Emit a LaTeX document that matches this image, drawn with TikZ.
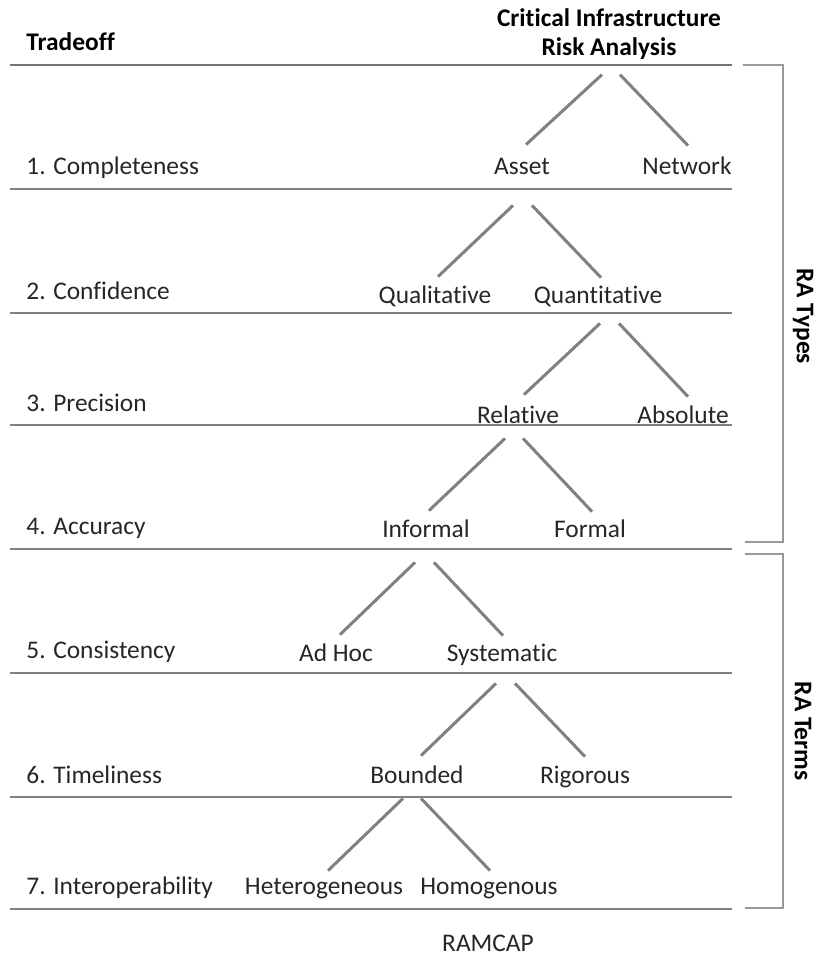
\documentclass[tikz,border=0pt]{standalone}
\usepackage{fontspec}
\setmainfont{Carlito}[Ligatures=NoCommon]
\usetikzlibrary{positioning}
\tikzset{
    choice/.style={
           anchor=base,
           inner sep=0pt,
           text height=11.5pt,
           text depth=12.5pt,
           text=black!85,
           },
}
\tikzset{
    tradeoff/.style={
           anchor=base west,
           inner sep=0pt,
           text=black!85,
           },
}
\tikzset{
    heading/.style={
           inner sep=0pt,
           font=\fontsize{12.7}{14.5}\selectfont\bfseries,
           },
}
\tikzset{
    branch/.style={
           draw=black!50, line width=1.5pt,
           },
}
\tikzset{
    rowline/.style={
           draw=black!50, line width=1pt,
           },
}
\tikzset{
    bracket/.style={
           draw=black!40, line width=1pt,
           },
}

\begin{document}
\begin{tikzpicture}[x=0.5pt,y=-0.5pt,font=\fontsize{12.7}{14.5}\selectfont]
\useasboundingbox (0,0) rectangle (816,957);
% header
\node[heading,anchor=base west](head) at (26,51){Tradeoff};
\node[heading,anchor=north,align=center](root) at (609,8){Critical Infrastructure\\Risk Analysis};
\draw[rowline,line width=1.4pt,draw=black!55] (10,65) -- (732,65);
% rows
\foreach \y in {189,313,425,549,673,797,909}
  \draw[rowline] (10,\y) -- (732,\y);
\node[tradeoff](t1) at (26,175){1. Completeness};
\node[tradeoff](t2) at (26,299){2. Confidence};
\node[tradeoff](t3) at (26,411){3. Precision};
\node[tradeoff](t4) at (26,534){4. Accuracy};
\node[tradeoff](t5) at (26,658){5. Consistency};
\node[tradeoff](t6) at (26,783){6. Timeliness};
\node[tradeoff](t7) at (26,894){7. Interoperability};
% tree
\node[choice](asset) at (522,175){Asset};
\node[choice](network) at (687,175){Network};
\node[choice](qual) at (435,303){Qualitative};
\node[choice](quant) at (598,303){Quantitative};
\node[choice](relative) at (518,423){Relative};
\node[choice](absolute) at (683,423){Absolute};
\node[choice](informal) at (426,537){Informal};
\node[choice](formal) at (590,537){Formal};
\node[choice](adhoc) at (336,661){Ad Hoc};
\node[choice](systematic) at (502,661){Systematic};
\node[choice](bounded) at (417,783){Bounded};
\node[choice](rigorous) at (585,783){Rigorous};
\node[choice](hetero) at (324,894){Heterogeneous};
\node[choice](homog) at (489,894){Homogenous};
\draw[branch] ([xshift=-3.5pt,yshift=-7.5pt]root.south) -- ([xshift=2pt,yshift=3.5pt]asset.north);
\draw[branch] ([xshift=5.5pt,yshift=-7.5pt]root.south) -- ([xshift=0.5pt,yshift=3pt]network.north);
\draw[branch] ([xshift=-4.5pt,yshift=-2.5pt]asset.south) -- ([xshift=1.5pt,yshift=1.5pt]qual.north);
\draw[branch] ([xshift=5pt,yshift=-2.5pt]asset.south) -- ([xshift=1.5pt,yshift=1pt]quant.north);
\draw[branch] ([xshift=1pt,yshift=2.5pt]quant.south) -- ([xshift=3pt,yshift=2.5pt]relative.north);
\draw[branch] ([xshift=10.5pt,yshift=2.5pt]quant.south) -- ([xshift=2.5pt,yshift=1.5pt]absolute.north);
\draw[branch] ([xshift=-6.5pt,yshift=5pt]relative.south) -- ([xshift=1.5pt,yshift=1.5pt]informal.north);
\draw[branch] ([xshift=2.5pt,yshift=5pt]relative.south) -- ([xshift=1pt,yshift=1pt]formal.north);
\draw[branch] ([xshift=-5.5pt]informal.south) -- ([xshift=2pt,yshift=1.5pt]adhoc.north);
\draw[branch] ([xshift=4pt]informal.south) -- ([xshift=0.5pt,yshift=1pt]systematic.north);
\draw[branch] ([xshift=-3pt,yshift=1.5pt]systematic.south) -- ([xshift=2pt,yshift=2pt]bounded.north);
\draw[branch] ([xshift=6.5pt,yshift=1.5pt]systematic.south) -- ([yshift=1.5pt]rigorous.north);
\draw[branch] ([xshift=-7pt,yshift=5pt]bounded.south) -- ([xshift=2pt]hetero.north);
\draw[branch] ([xshift=2pt,yshift=5pt]bounded.south) -- ([xshift=0.5pt]homog.north);
% brackets
\draw[bracket] (743,65) -- (783,65) -- (783,542) -- (745,542);
\draw[bracket] (745,554) -- (783,554) -- (783,908) -- (745,908);
\node[heading,rotate=-90](types) at (803,316){RA Types};
\node[heading,rotate=-90](terms) at (803,731){RA Terms};
\node[choice,text depth=0pt](ramcap) at (488,951){RAMCAP};
\end{tikzpicture}
\end{document}
